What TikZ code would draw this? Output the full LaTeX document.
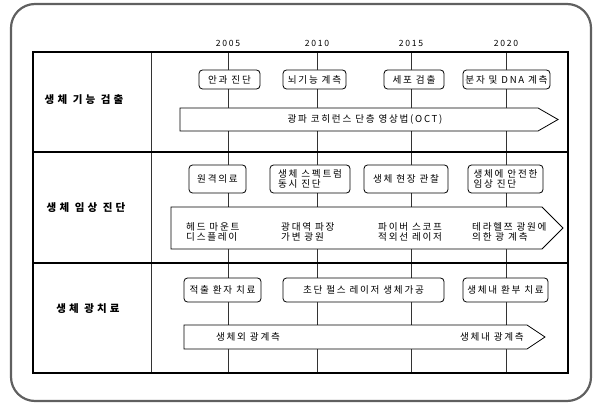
\documentclass[tikz,border=0pt]{standalone}
\usepackage{fontspec}
\setmainfont{Noto Sans CJK KR}
\newfontfamily\kt[LetterSpace=18]{Noto Sans CJK KR}
\newfontfamily\kl[LetterSpace=30]{Noto Sans CJK KR}
\newfontfamily\ky[LetterSpace=20]{Noto Sans CJK KR}
\begin{document}
\begin{tikzpicture}[x=1pt,y=-1pt,
  box/.style={draw, line width=0.8pt, rounded corners=3.5pt, fill=white,
    font=\kt\fontsize{9.6}{10.5}\selectfont, inner sep=0pt, align=left},
  arrowshape/.style={draw, line width=0.8pt, fill=white},
  atext/.style={font=\kt\fontsize{9.6}{10}\selectfont, inner sep=0pt, align=left},
  rowlabel/.style={font=\kl\bfseries\fontsize{10.5}{12}\selectfont, inner sep=0pt},
  year/.style={font=\ky\fontsize{8.6}{9}\selectfont, inner sep=0pt},
  gridthin/.style={line width=0.8pt, black!80},
  gridmid/.style={line width=1.2pt},
  gridthick/.style={line width=2pt}]
\useasboundingbox (0,0) rectangle (593,403);
% outer frame
\draw[gray!75!black, line width=2.2pt, rounded corners=24pt] (11,4) rectangle (591,401);
% years
\node[year] (y05) at (228,43) {2005};
\node[year] (y10) at (317,43) {2010};
\node[year] (y15) at (411,43) {2015};
\node[year] (y20) at (506,43) {2020};
% grid
\draw[gridthin] (151,52) -- (151,373);
\foreach \x in {228,317,411,506} \draw[gridthin] (\x,52) -- (\x,373);
\draw[gridmid] (33,152) -- (568,152);
\draw[gridmid] (33,263) -- (568,263);
\draw[gridthick] (33,52) rectangle (568,373);
% row labels
\node[rowlabel] (l1) at (84,100) {생체 기능 검출};
\node[rowlabel] (l2) at (86,208) {생체 임상 진단};
\node[rowlabel] (l3) at (88,309) {생체 광치료};
% row 1
\node[box, minimum width=61pt, minimum height=19pt] (b11) at (229.5,79.5) {안과 진단};
\node[box, minimum width=63pt, minimum height=19pt] (b12) at (314.5,79.5) {뇌기능 계측};
\node[box, minimum width=60pt, minimum height=19pt] (b13) at (414,79.5) {세포 검출};
\node[box, minimum width=87pt, minimum height=19pt] (b14) at (506.5,79.5) {분자 및 DNA 계측};
\draw[arrowshape] (180,108) -- (538,108) -- (558,119.5) -- (538,131) -- (180,131) -- cycle;
\node[atext] (t1) at (365,119.5) {광파 코히런스 단층 영상법(OCT)};
% row 2
\node[box, minimum width=57pt, minimum height=28pt] (b21) at (217.5,179) {원격의료};
\node[box, minimum width=80pt, minimum height=28pt] (b22) at (310,179) {생체 스펙트럼\\동시 진단};
\node[box, minimum width=84pt, minimum height=28pt] (b23) at (406,179) {생체 현장 관찰};
\node[box, minimum width=75pt, minimum height=28pt] (b24) at (505.5,179) {생체에 안전한\\임상 진단};
\draw[arrowshape] (171,207) -- (542,207) -- (563,228) -- (542,249) -- (171,249) -- cycle;
\node[atext, anchor=west] (t21) at (186,232) {헤드 마운트\\디스플레이};
\node[atext, anchor=west] (t22) at (281,232) {광대역 파장\\가변 광원};
\node[atext, anchor=west] (t23) at (378,232) {파이버 스코프\\적외선 레이저};
\node[atext, anchor=west] (t24) at (472,232) {테라헬쯔 광원에\\의한 광 계측};
% row 3
\node[box, minimum width=77pt, minimum height=24pt] (b31) at (222.5,290) {적출 환자 치료};
\node[box, minimum width=161pt, minimum height=24pt] (b32) at (363.5,290) {초단 펄스 레이저 생체가공};
\node[box, minimum width=85pt, minimum height=24pt] (b33) at (505.5,290) {생체내 환부 치료};
\draw[arrowshape] (184,325) -- (527,325) -- (545,337) -- (527,349) -- (184,349) -- cycle;
\node[atext] (t31) at (248,337) {생체외 광계측};
\node[atext, anchor=east] (t32) at (524,337) {생체내 광계측};
\end{tikzpicture}
\end{document}
